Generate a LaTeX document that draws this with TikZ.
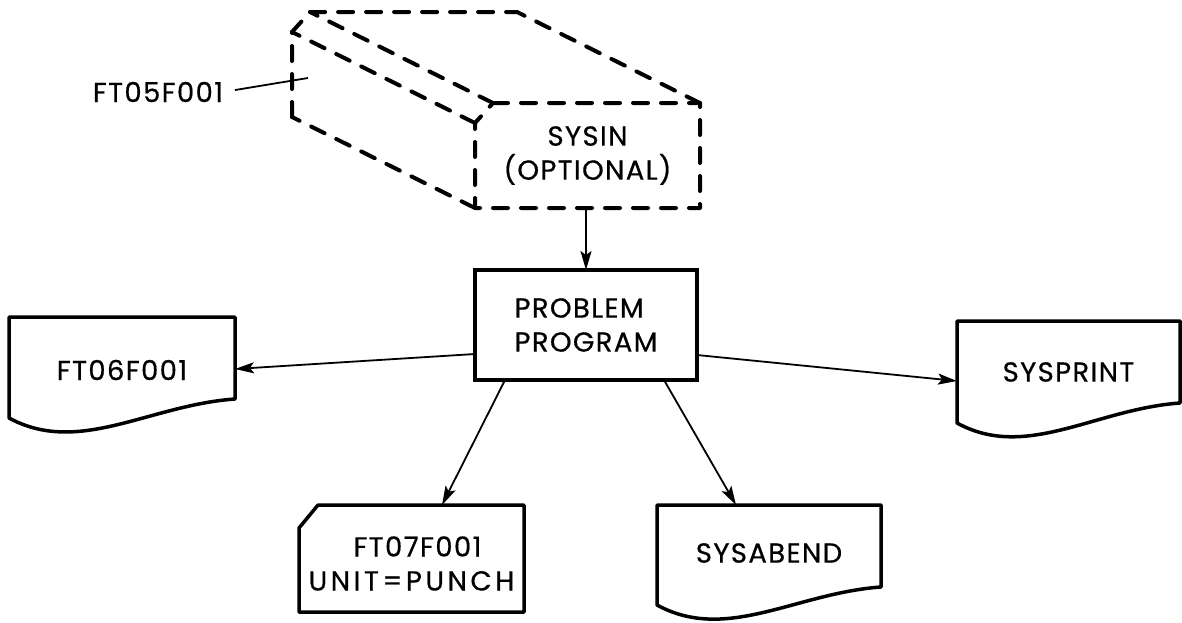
\documentclass[tikz,border=0pt]{standalone}
\usepackage{fontspec}
\setmainfont{Poppins}[LetterSpace=5,FakeBold=0.6]
\usetikzlibrary{arrows.meta,calc}
\begin{document}
\begin{tikzpicture}[x=1pt,y=-1pt,
  lbl/.style={font=\fontsize{27.5}{34}\selectfont},
  box/.style={draw,line width=3.5pt,inner sep=0pt,outer sep=0pt},
  ghost/.style={inner sep=0pt,outer sep=0pt,align=center},
  conn/.style={line width=1.8pt,-{Stealth[length=19pt,width=11pt,inset=4pt]}},
  leader/.style={line width=1.8pt},
  deck/.style={line width=4pt,line cap=round,dash pattern=on 15pt off 13pt,line join=round},
  docline/.style={line width=3.5pt,line join=round}]
\useasboundingbox (0,0) rectangle (1182,622);

% document symbol: node, drop of the right side, drop of the left side
\newcommand\docframe[3]{%
  \draw[docline] (#1.north west) -- (#1.north east) -- ($(#1.north east)+(0,#2)$)
    .. controls ($(#1.north west)!0.62!(#1.north east)+(0,#2+6)$)
       and ($(#1.north west)!0.31!(#1.north east)+(0,#3+38)$)
    .. ($(#1.north west)+(0,#3)$) -- cycle;}

% nodes
\node[box,lbl,minimum width=222pt,minimum height=110pt,align=left] (prob) at (586,325) {PROBLEM\\PROGRAM};
\node[ghost,lbl,minimum width=225pt,minimum height=105pt,anchor=north west] (sysin) at (475,103) {SYSIN\\(OPTIONAL)};
\node[ghost,lbl,minimum width=226pt,minimum height=106pt,anchor=north west] (ft06) at (9,317) {FT06F001};
\node[ghost,lbl,minimum width=223pt,minimum height=102pt,anchor=north west] (sysprint) at (957,321) {SYSPRINT};
\node[ghost,lbl,minimum width=224pt,minimum height=96pt,anchor=north west] (sysabend) at (657,505) {SYSABEND};
\node[ghost,lbl,minimum width=225pt,minimum height=117pt,anchor=north west] (punch) at (299,505)
  {\hspace*{12pt}FT07F001\\\addfontfeature{LetterSpace=13}UNIT=PUNCH};
\node[ghost,lbl] (ft05) at (158,92) {FT05F001};
\coordinate (lead) at (308,78);

% card deck (dashed, optional input)
\coordinate (D) at ($(sysin.north west)+(18,0)$);
\coordinate (E) at ($(sysin.north west)+(0,20)$);
\draw[deck] (D) -- (sysin.north east) -- (sysin.south east) -- (sysin.south west) -- (E) -- cycle;
\draw[deck] ($(sysin.south west)+(-183,-91)$) -- ($(E)+(-183,-91)$) -- ($(D)+(-183,-91)$) -- ($(sysin.north east)+(-183,-91)$);
\draw[deck] (D) -- ++(-183,-91);
\draw[deck] (E) -- ++(-183,-91);
\draw[deck] (sysin.south west) -- ++(-183,-91);
\draw[deck] (sysin.north east) -- ++(-183,-91);

% documents
\docframe{ft06}{82}{101}
\docframe{sysprint}{82}{102}
\docframe{sysabend}{82}{100}

% punched card
\draw[docline] ($(punch.north west)+(19,0)$) -- (punch.north east) -- ($(punch.north east)+(0,107)$)
  -- ($(punch.north west)+(0,107)$) -- ($(punch.north west)+(0,23)$) -- cycle;

% connectors
\draw[leader,shorten <=12pt] (ft05.east) -- (lead);
\draw[conn] (prob.north |- sysin.south) -- (prob.north);
\draw[conn] ($(prob.west)+(0,29)$) -- ($(ft06.north east)+(0,52)$);
\draw[conn] ($(prob.east)+(0,30)$) -- ($(sysprint.north west)+(0,60)$);
\draw[conn] ($(prob.south west)+(30,0)$) -- ($(punch.north west)+(143,0)$);
\draw[conn] ($(prob.south west)+(189,0)$) -- ($(sysabend.north west)+(79,0)$);
\end{tikzpicture}
\end{document}
